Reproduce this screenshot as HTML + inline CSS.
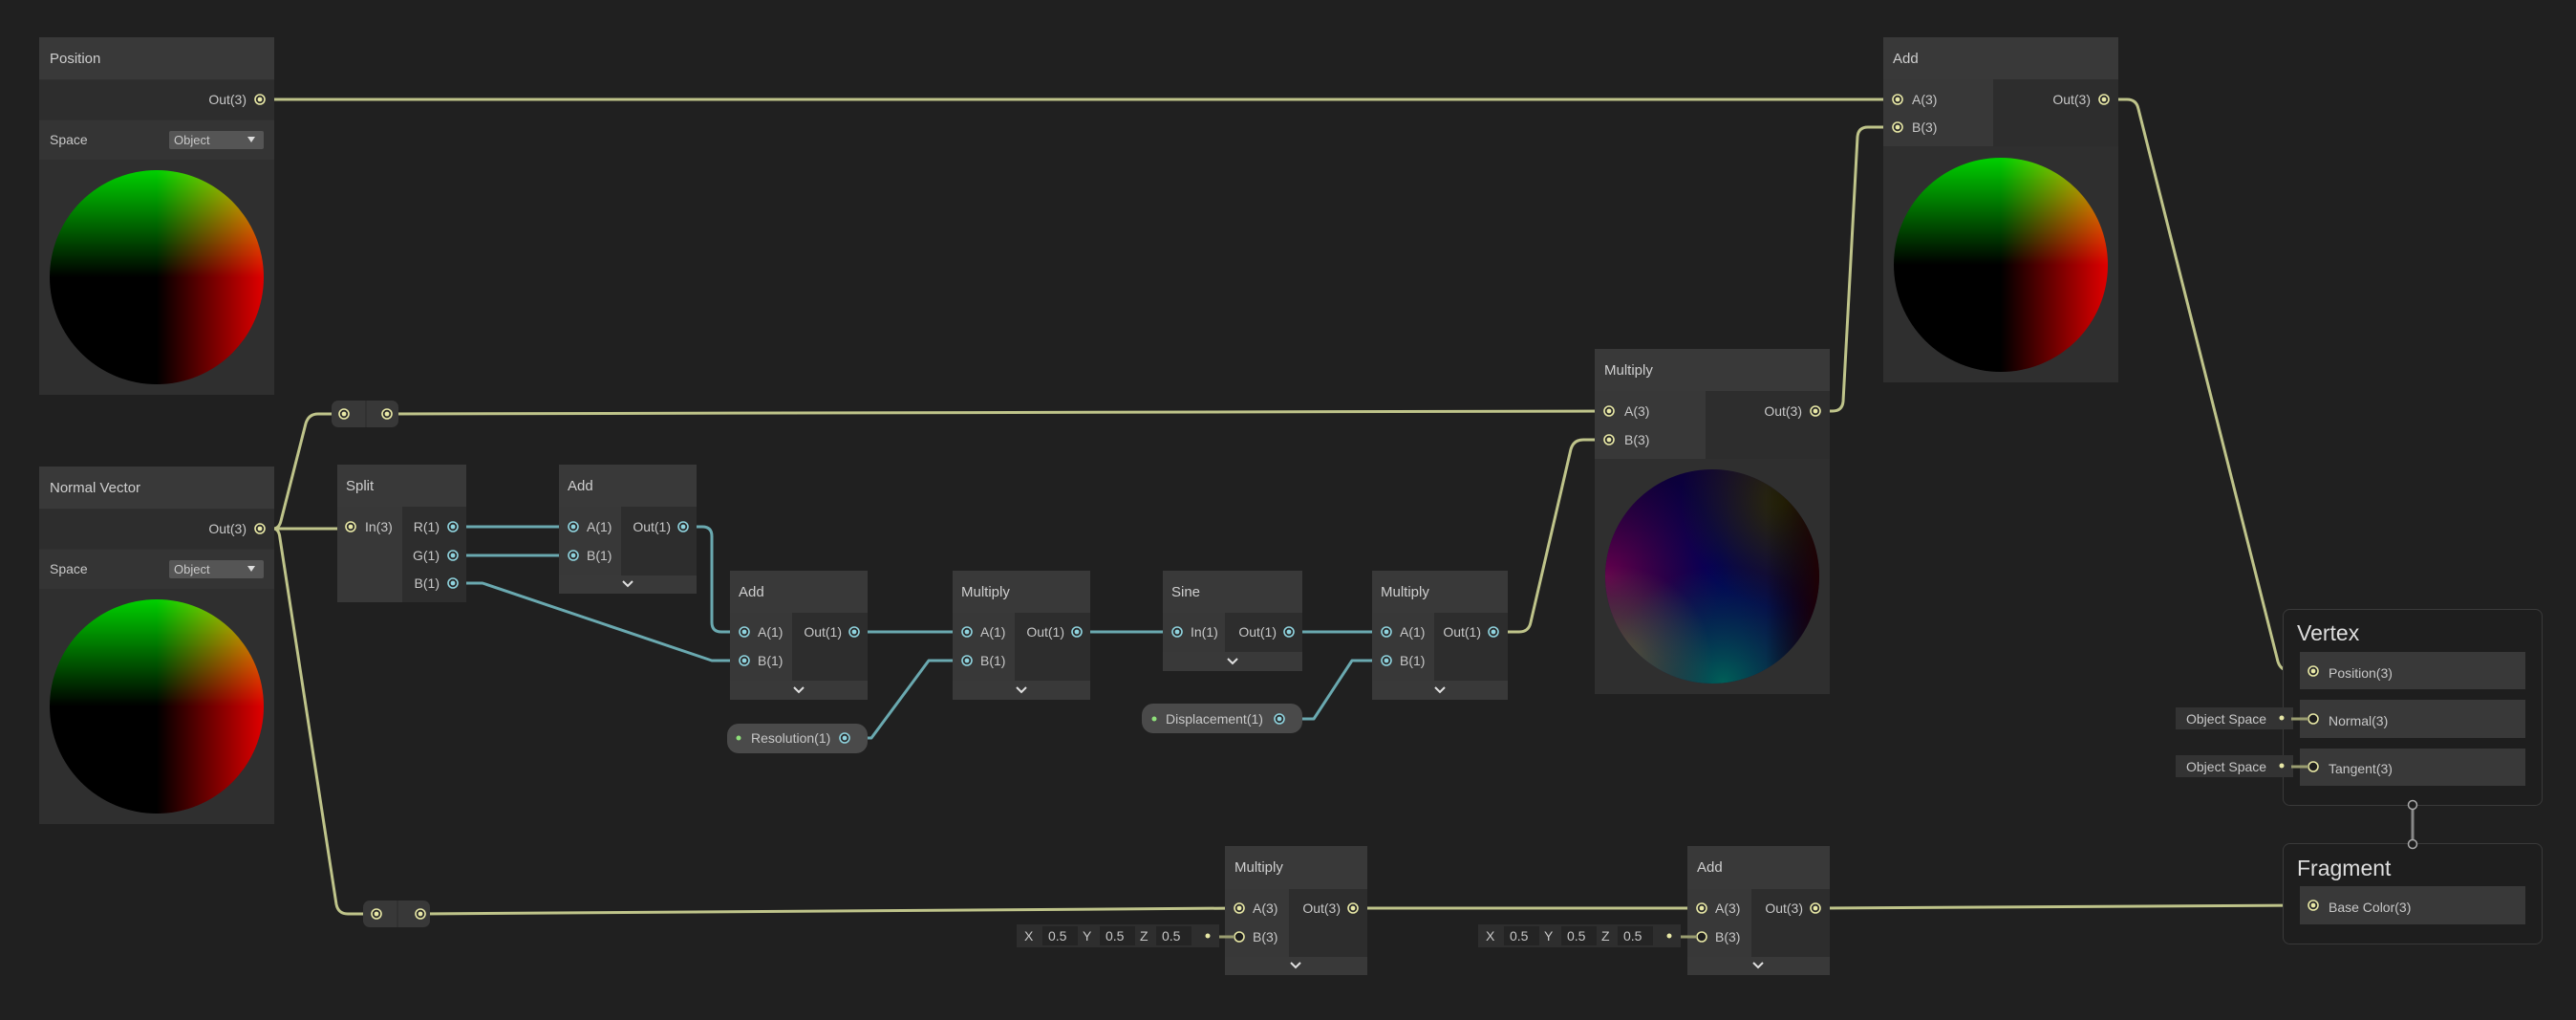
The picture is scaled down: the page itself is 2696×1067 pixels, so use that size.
<!DOCTYPE html>
<html><head><meta charset="utf-8"><style>
html,body{margin:0;padding:0;background:#202020;}
svg{display:block;}
text{font-family:"Liberation Sans",sans-serif;fill:#c8c8c8;font-size:14px;}
.t{font-size:15px;fill:#cfcfcf;}
.big{font-size:23px;fill:#dedede;}
.sm{font-size:13px;}
.ttl{fill:#393939}.in{fill:#383838}.out{fill:#2d2d2d}.bar{fill:#393939}
.y{fill:none;stroke:#bfc48a;stroke-width:3;stroke-linejoin:round}
.c{fill:none;stroke:#6aa9b0;stroke-width:3;stroke-linejoin:round}
.chev{fill:none;stroke:#e0e0e0;stroke-width:2}
</style></head><body>
<svg width="2696" height="1067" viewBox="0 0 2696 1067" xmlns="http://www.w3.org/2000/svg">
<defs>
<symbol id="py" overflow="visible"><circle r="5" fill="#2a2a2a" stroke="#e8e8a6" stroke-width="1.6"/><circle r="2.4" fill="#e8e8a6"/></symbol>
<symbol id="pc" overflow="visible"><circle r="5" fill="#2a2a2a" stroke="#8fd3de" stroke-width="1.6"/><circle r="2.4" fill="#8fd3de"/></symbol>
<symbol id="po" overflow="visible"><circle r="5" fill="#1e1e1e" stroke="#e8e8a6" stroke-width="1.6"/></symbol>
<linearGradient id="gG" x1="0" y1="1" x2="0" y2="0"><stop offset="0" stop-color="#000"/><stop offset="1" stop-color="#00d000"/></linearGradient>
<linearGradient id="gR" x1="0" y1="0" x2="1" y2="0"><stop offset="0" stop-color="#000"/><stop offset="1" stop-color="#e00000"/></linearGradient>
<radialGradient id="mB" cx="0.5" cy="0.45" r="0.6"><stop offset="0" stop-color="#000058"/><stop offset="1" stop-color="#100030"/></radialGradient>
<radialGradient id="mM" cx="0" cy="0.5" r="0.55"><stop offset="0" stop-color="#700050" stop-opacity="0.9"/><stop offset="1" stop-color="#400040" stop-opacity="0"/></radialGradient>
<radialGradient id="mT" cx="0.55" cy="1" r="0.55"><stop offset="0" stop-color="#006058"/><stop offset="1" stop-color="#004060" stop-opacity="0"/></radialGradient>
<radialGradient id="mO" cx="0.05" cy="0.9" r="0.45"><stop offset="0" stop-color="#606038" stop-opacity="0.9"/><stop offset="1" stop-color="#506040" stop-opacity="0"/></radialGradient>
<radialGradient id="mY" cx="0.85" cy="0.15" r="0.5"><stop offset="0" stop-color="#303000" stop-opacity="0.9"/><stop offset="1" stop-color="#303000" stop-opacity="0"/></radialGradient>
<linearGradient id="mE" x1="0" y1="0" x2="1" y2="0"><stop offset="0.75" stop-color="#000" stop-opacity="0"/><stop offset="1" stop-color="#200000" stop-opacity="0.9"/></linearGradient>
<clipPath id="s1"><circle cx="164" cy="290" r="112"/></clipPath>
<clipPath id="s2"><circle cx="164" cy="739" r="112"/></clipPath>
<clipPath id="s3"><circle cx="2094" cy="277" r="112"/></clipPath>
<clipPath id="s4"><circle cx="1792" cy="603" r="112"/></clipPath>
</defs>

<!-- edges -->
<path class="y" d="M272,104 H1986"/>
<path class="y" d="M2202,104 H2226 Q2236,104 2238,114 L2384,692 Q2387,702 2398,702 H2421"/>
<path class="y" d="M272,553 H367"/>
<path class="y" d="M286,553 Q292,553 294,545 L320,443 Q323,433 333,433 H360"/>
<path class="y" d="M286,553 Q292,553 293,563 L352,946 Q354,956 364,956 H394"/>
<path class="y" d="M405,433 L1684,430"/>
<path class="y" d="M1563,661 H1590 Q1600,661 1602,651 L1644,470 Q1647,460 1657,460 H1684"/>
<path class="y" d="M1900,430 H1918 Q1928,430 1929,420 L1944,143 Q1945,133 1955,133 H1986"/>
<path class="y" d="M440,956 L1297,950"/>
<path class="y" d="M1416,950 H1781"/>
<path class="y" d="M1900,950 L2421,947"/>
<path class="c" d="M474,551 H600 M474,581 H600"/>
<path class="c" d="M474,610 H505 L745,691 H779"/>
<path class="c" d="M715,551 H735 Q745,551 745,561 V651 Q745,661 755,661 H779"/>
<path class="c" d="M894,661 H1012 M1127,661 H1232 M1349,661 H1451"/>
<path class="c" d="M884,772 H912 L972,691 H1012"/>
<path class="c" d="M1339,752 H1375 L1415,691 H1451"/>

<!-- Position -->
<rect x="41" y="39" width="246" height="374" fill="#2f2f2f"/>
<rect class="ttl" x="41" y="39" width="246" height="44"/>
<text class="t" x="52" y="66">Position</text>
<rect class="out" x="41" y="84" width="246" height="41"/>
<text x="258" y="109" text-anchor="end">Out(3)</text><use href="#py" x="272" y="104"/>
<rect x="41" y="126" width="246" height="41" fill="#343434"/>
<text x="52" y="151">Space</text>
<rect x="177" y="137" width="99" height="19" rx="2" fill="#555"/>
<text class="sm" x="182" y="151">Object</text><path d="M259,143 h8 l-4,6z" fill="#ddd"/>
<g clip-path="url(#s1)"><rect x="52" y="178" width="224" height="224" fill="#000"/>
<rect x="52" y="178" width="224" height="112" fill="url(#gG)"/>
<rect x="164" y="178" width="112" height="224" fill="url(#gR)" style="mix-blend-mode:screen"/></g>

<!-- Normal Vector -->
<rect x="41" y="488" width="246" height="374" fill="#2f2f2f"/>
<rect class="ttl" x="41" y="488" width="246" height="44"/>
<text class="t" x="52" y="515">Normal Vector</text>
<rect class="out" x="41" y="533" width="246" height="41"/>
<text x="258" y="558" text-anchor="end">Out(3)</text><use href="#py" x="272" y="553"/>
<rect x="41" y="575" width="246" height="41" fill="#343434"/>
<text x="52" y="600">Space</text>
<rect x="177" y="586" width="99" height="19" rx="2" fill="#555"/>
<text class="sm" x="182" y="600">Object</text><path d="M259,592 h8 l-4,6z" fill="#ddd"/>
<g clip-path="url(#s2)"><rect x="52" y="627" width="224" height="224" fill="#000"/>
<rect x="52" y="627" width="224" height="112" fill="url(#gG)"/>
<rect x="164" y="627" width="112" height="224" fill="url(#gR)" style="mix-blend-mode:screen"/></g>

<!-- reroutes -->
<rect x="347" y="419" width="70" height="28" rx="7" fill="#383838"/><line x1="383" y1="419" x2="383" y2="447" stroke="#2a2a2a"/>
<use href="#py" x="360" y="433"/><use href="#py" x="405" y="433"/>
<rect x="380" y="942" width="70" height="28" rx="7" fill="#383838"/><line x1="416" y1="942" x2="416" y2="970" stroke="#2a2a2a"/>
<use href="#py" x="394" y="956"/><use href="#py" x="440" y="956"/>

<!-- Split -->
<rect class="ttl" x="353" y="486" width="135" height="44"/><text class="t" x="362" y="513">Split</text>
<rect class="in" x="353" y="530" width="68" height="100"/><rect class="out" x="421" y="530" width="67" height="100"/>
<use href="#py" x="367" y="551"/><text x="382" y="556">In(3)</text>
<text x="460" y="556" text-anchor="end">R(1)</text><use href="#pc" x="474" y="551"/>
<text x="460" y="586" text-anchor="end">G(1)</text><use href="#pc" x="474" y="581"/>
<text x="460" y="615" text-anchor="end">B(1)</text><use href="#pc" x="474" y="610"/>

<!-- Add1 -->
<rect class="ttl" x="585" y="486" width="144" height="44"/><text class="t" x="594" y="513">Add</text>
<rect class="in" x="585" y="530" width="65" height="72"/><rect class="out" x="650" y="530" width="79" height="72"/>
<rect class="bar" x="585" y="602" width="144" height="19"/><path class="chev" d="M652,608 l5,5 l5,-5"/>
<use href="#pc" x="600" y="551"/><text x="614" y="556">A(1)</text>
<use href="#pc" x="600" y="581"/><text x="614" y="586">B(1)</text>
<text x="702" y="556" text-anchor="end">Out(1)</text><use href="#pc" x="715" y="551"/>

<!-- Add2 -->
<rect class="ttl" x="764" y="597" width="144" height="44"/><text class="t" x="773" y="624">Add</text>
<rect class="in" x="764" y="641" width="65" height="71"/><rect class="out" x="829" y="641" width="79" height="71"/>
<rect class="bar" x="764" y="712" width="144" height="20"/><path class="chev" d="M831,719 l5,5 l5,-5"/>
<use href="#pc" x="779" y="661"/><text x="793" y="666">A(1)</text>
<use href="#pc" x="779" y="691"/><text x="793" y="696">B(1)</text>
<text x="881" y="666" text-anchor="end">Out(1)</text><use href="#pc" x="894" y="661"/>

<!-- Multiply1 -->
<rect class="ttl" x="997" y="597" width="144" height="44"/><text class="t" x="1006" y="624">Multiply</text>
<rect class="in" x="997" y="641" width="65" height="71"/><rect class="out" x="1062" y="641" width="79" height="71"/>
<rect class="bar" x="997" y="712" width="144" height="20"/><path class="chev" d="M1064,719 l5,5 l5,-5"/>
<use href="#pc" x="1012" y="661"/><text x="1026" y="666">A(1)</text>
<use href="#pc" x="1012" y="691"/><text x="1026" y="696">B(1)</text>
<text x="1114" y="666" text-anchor="end">Out(1)</text><use href="#pc" x="1127" y="661"/>

<!-- Sine -->
<rect class="ttl" x="1217" y="597" width="146" height="44"/><text class="t" x="1226" y="624">Sine</text>
<rect class="in" x="1217" y="641" width="65" height="41"/><rect class="out" x="1282" y="641" width="81" height="41"/>
<rect class="bar" x="1217" y="682" width="146" height="20"/><path class="chev" d="M1285,689 l5,5 l5,-5"/>
<use href="#pc" x="1232" y="661"/><text x="1246" y="666">In(1)</text>
<text x="1336" y="666" text-anchor="end">Out(1)</text><use href="#pc" x="1349" y="661"/>

<!-- Multiply2 -->
<rect class="ttl" x="1436" y="597" width="142" height="44"/><text class="t" x="1445" y="624">Multiply</text>
<rect class="in" x="1436" y="641" width="65" height="71"/><rect class="out" x="1501" y="641" width="77" height="71"/>
<rect class="bar" x="1436" y="712" width="142" height="20"/><path class="chev" d="M1502,719 l5,5 l5,-5"/>
<use href="#pc" x="1451" y="661"/><text x="1465" y="666">A(1)</text>
<use href="#pc" x="1451" y="691"/><text x="1465" y="696">B(1)</text>
<text x="1550" y="666" text-anchor="end">Out(1)</text><use href="#pc" x="1563" y="661"/>

<!-- properties -->
<rect x="761" y="757" width="147" height="31" rx="12" fill="#4a4a4a"/>
<circle cx="773" cy="772" r="2.5" fill="#8fe07a"/><text x="786" y="777">Resolution(1)</text><use href="#pc" x="884" y="772"/>
<rect x="1195" y="736" width="168" height="31" rx="12" fill="#4a4a4a"/>
<circle cx="1208" cy="752" r="2.5" fill="#8fe07a"/><text x="1220" y="757">Displacement(1)</text><use href="#pc" x="1339" y="752"/>

<!-- Big Multiply -->
<rect x="1669" y="365" width="246" height="361" fill="#2f2f2f"/>
<rect class="ttl" x="1669" y="365" width="246" height="44"/><text class="t" x="1679" y="392">Multiply</text>
<rect class="in" x="1669" y="409" width="116" height="71"/><rect class="out" x="1785" y="409" width="130" height="71"/>
<use href="#py" x="1684" y="430"/><text x="1700" y="435">A(3)</text>
<use href="#py" x="1684" y="460"/><text x="1700" y="465">B(3)</text>
<text x="1886" y="435" text-anchor="end">Out(3)</text><use href="#py" x="1900" y="430"/>
<g clip-path="url(#s4)"><rect x="1680" y="491" width="224" height="224" fill="url(#mB)"/>
<rect x="1680" y="491" width="224" height="224" fill="url(#mM)"/>
<rect x="1680" y="491" width="224" height="224" fill="url(#mT)"/>
<rect x="1680" y="491" width="224" height="224" fill="url(#mO)"/>
<rect x="1680" y="491" width="224" height="224" fill="url(#mY)"/>
<rect x="1680" y="491" width="224" height="224" fill="url(#mE)"/></g>

<!-- Big Add -->
<rect x="1971" y="39" width="246" height="361" fill="#2f2f2f"/>
<rect class="ttl" x="1971" y="39" width="246" height="44"/><text class="t" x="1981" y="66">Add</text>
<rect class="in" x="1971" y="83" width="115" height="70"/><rect class="out" x="2086" y="83" width="131" height="70"/>
<use href="#py" x="1986" y="104"/><text x="2001" y="109">A(3)</text>
<use href="#py" x="1986" y="133"/><text x="2001" y="138">B(3)</text>
<text x="2188" y="109" text-anchor="end">Out(3)</text><use href="#py" x="2202" y="104"/>
<g clip-path="url(#s3)"><rect x="1982" y="165" width="224" height="224" fill="#000"/>
<rect x="1982" y="165" width="224" height="112" fill="url(#gG)"/>
<rect x="2094" y="165" width="112" height="224" fill="url(#gR)" style="mix-blend-mode:screen"/></g>

<!-- Bottom Multiply -->
<rect class="ttl" x="1282" y="885" width="149" height="45"/><text class="t" x="1292" y="912">Multiply</text>
<rect class="in" x="1282" y="930" width="67" height="71"/><rect class="out" x="1349" y="930" width="82" height="71"/>
<rect class="bar" x="1282" y="1001" width="149" height="19"/><path class="chev" d="M1351,1007 l5,5 l5,-5"/>
<use href="#py" x="1297" y="950"/><text x="1311" y="955">A(3)</text>
<use href="#po" x="1297" y="980"/><text x="1311" y="985">B(3)</text>
<text x="1403" y="955" text-anchor="end">Out(3)</text><use href="#py" x="1416" y="950"/>
<rect x="1064" y="967" width="212" height="24" fill="#2e2e2e"/>
<text x="1072" y="984">X</text><rect x="1091" y="969" width="37" height="20" fill="#242424"/><text x="1097" y="984">0.5</text>
<text x="1133" y="984">Y</text><rect x="1151" y="969" width="37" height="20" fill="#242424"/><text x="1157" y="984">0.5</text>
<text x="1193" y="984">Z</text><rect x="1210" y="969" width="37" height="20" fill="#242424"/><text x="1216" y="984">0.5</text>
<circle cx="1264" cy="979" r="2.5" fill="#e8e8a6"/><line x1="1276" y1="980" x2="1292" y2="980" stroke="#9a9d70" stroke-width="3"/>

<!-- Bottom Add -->
<rect class="ttl" x="1766" y="885" width="149" height="45"/><text class="t" x="1776" y="912">Add</text>
<rect class="in" x="1766" y="930" width="67" height="71"/><rect class="out" x="1833" y="930" width="82" height="71"/>
<rect class="bar" x="1766" y="1001" width="149" height="19"/><path class="chev" d="M1835,1007 l5,5 l5,-5"/>
<use href="#py" x="1781" y="950"/><text x="1795" y="955">A(3)</text>
<use href="#po" x="1781" y="980"/><text x="1795" y="985">B(3)</text>
<text x="1887" y="955" text-anchor="end">Out(3)</text><use href="#py" x="1900" y="950"/>
<rect x="1547" y="967" width="212" height="24" fill="#2e2e2e"/>
<text x="1555" y="984">X</text><rect x="1574" y="969" width="37" height="20" fill="#242424"/><text x="1580" y="984">0.5</text>
<text x="1616" y="984">Y</text><rect x="1634" y="969" width="37" height="20" fill="#242424"/><text x="1640" y="984">0.5</text>
<text x="1676" y="984">Z</text><rect x="1693" y="969" width="37" height="20" fill="#242424"/><text x="1699" y="984">0.5</text>
<circle cx="1747" cy="979" r="2.5" fill="#e8e8a6"/><line x1="1759" y1="980" x2="1776" y2="980" stroke="#9a9d70" stroke-width="3"/>

<!-- Vertex -->
<rect x="2389.5" y="637.5" width="271" height="205" rx="7" fill="#1e1e1e" stroke="#3a3a3a"/>
<text class="big" x="2404" y="670">Vertex</text>
<rect x="2407" y="682" width="236" height="39" fill="#393939"/>
<rect x="2407" y="732" width="236" height="40" fill="#393939"/>
<rect x="2407" y="783" width="236" height="39" fill="#393939"/>
<use href="#py" x="2421" y="702"/><text x="2437" y="709">Position(3)</text>
<use href="#po" x="2421" y="752"/><text x="2437" y="759">Normal(3)</text>
<use href="#po" x="2421" y="802"/><text x="2437" y="809">Tangent(3)</text>
<rect x="2277" y="740" width="123" height="23" fill="#333"/><text x="2288" y="757">Object Space</text>
<circle cx="2388" cy="751" r="2.5" fill="#e8e8a6"/><line x1="2398" y1="752" x2="2416" y2="752" stroke="#9a9d70" stroke-width="3"/>
<rect x="2277" y="790" width="123" height="23" fill="#333"/><text x="2288" y="807">Object Space</text>
<circle cx="2388" cy="801" r="2.5" fill="#e8e8a6"/><line x1="2398" y1="802" x2="2416" y2="802" stroke="#9a9d70" stroke-width="3"/>
<line x1="2525" y1="846" x2="2525" y2="879" stroke="#888" stroke-width="3"/>
<circle cx="2525" cy="842" r="4.5" fill="#1e1e1e" stroke="#aaa" stroke-width="1.5"/>

<!-- Fragment -->
<rect x="2389.5" y="882.5" width="271" height="105" rx="7" fill="#1e1e1e" stroke="#3a3a3a"/>
<circle cx="2525" cy="883" r="4.5" fill="#1e1e1e" stroke="#aaa" stroke-width="1.5"/>
<text class="big" x="2404" y="916">Fragment</text>
<rect x="2407" y="927" width="236" height="40" fill="#393939"/>
<use href="#py" x="2421" y="947"/><text x="2437" y="954">Base Color(3)</text>
</svg>
</body></html>
